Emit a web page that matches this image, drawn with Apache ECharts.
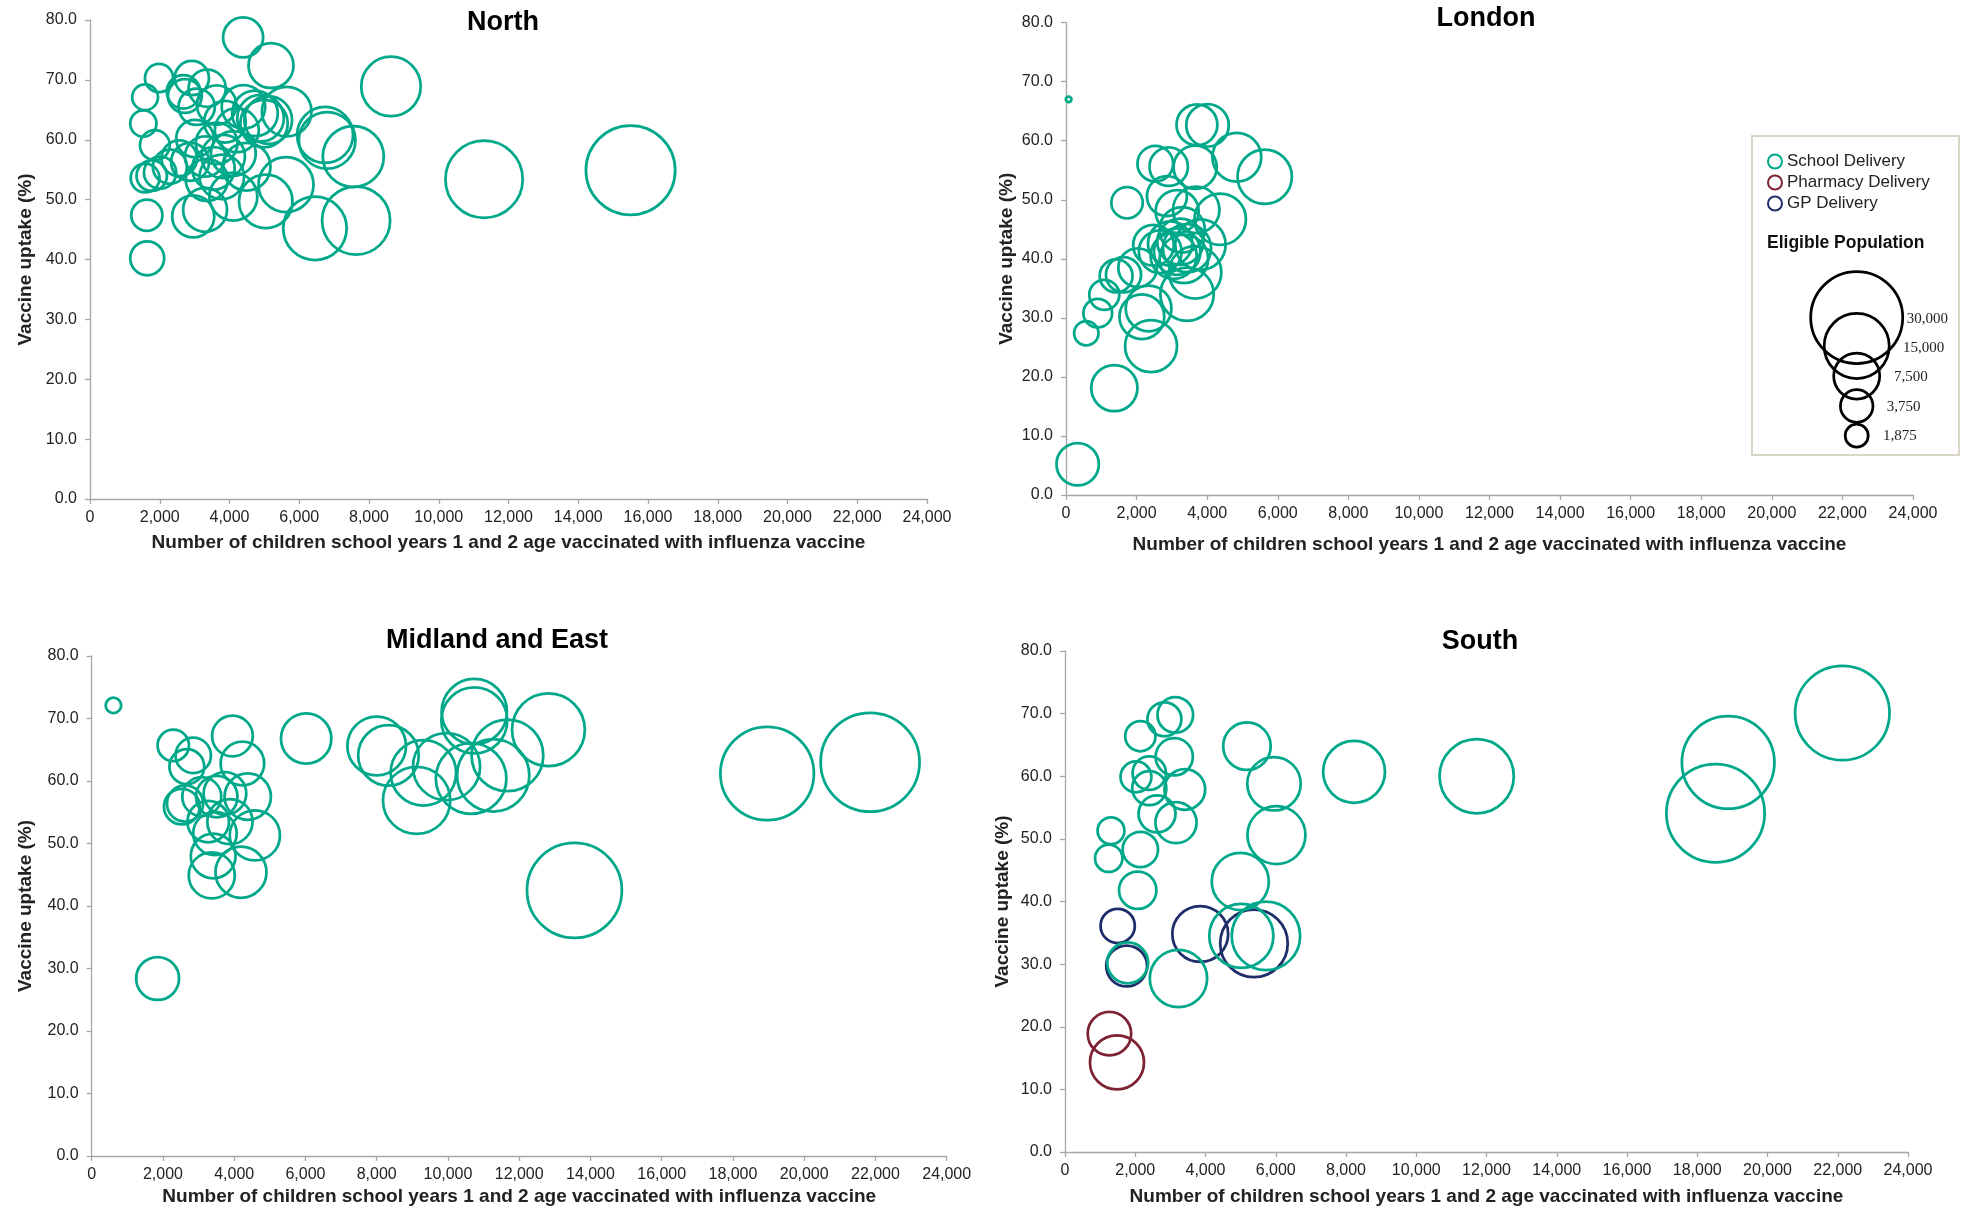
<!DOCTYPE html>
<html>
<head>
<meta charset="utf-8">
<script src="https://cdn.jsdelivr.net/npm/echarts@6/dist/echarts.min.js"></script>
<style>
html,body{margin:0;padding:0;background:#fff;}
#chart{width:1966px;height:1210px;}
</style>
</head>
<body>
<div id="chart"></div>
<script>
// ---- data: [vaccinated children, uptake %] ----
const regionTitles = ['North', 'London', 'Midland and East', 'South'];
const seriesNames = ['School Delivery', 'Pharmacy Delivery', 'GP Delivery'];

const northSchool = [
  [4390,77.1],[5190,72.4],[8630,68.9],[11300,53.4],[15500,54.9],[7630,46.5],[6450,45.2],
  [7550,57.2],[6740,60.8],[6800,59.9],[5620,52.5],[5040,49.7],[5640,64.7],[4730,64.4],
  [4890,63.6],[4990,62.7],[5110,63.3],[4400,65.5],[4490,55.5],[4110,50.5],[3300,48.3],
  [2960,47.2],[1630,47.4],[1640,40.2],[1580,67.1],[1530,62.7],[1980,70.3],[1860,59.1],
  [1580,53.6],[1770,54.0],[2010,54.5],[2290,55.5],[2560,56.9],[2680,68.0],[2720,67.3],
  [2920,70.3],[3360,68.6],[3060,65.5],[3630,65.8],[3010,60.2],[3300,57.2],[3630,59.4],
  [3820,57.2],[3540,55.2],[3780,53.8],[4110,57.7],[4210,61.6],[3350,53.3],[2870,56.3],
  [3870,63.0]
];
const londonSchool = [
  [75,67.0],[330,5.2],[1370,18.1],[2410,25.2],[575,27.4],[900,30.8],[1085,33.9],[1420,37.1],
  [1630,37.3],[2030,38.5],[2150,30.2],[2340,31.6],[1730,49.5],[2530,56.1],[2910,55.6],
  [3710,62.7],[4010,62.6],[4840,57.2],[5630,53.9],[3660,55.5],[2860,50.6],[3150,48.0],
  [3690,48.3],[4370,46.7],[2480,42.3],[2670,41.2],[2950,42.6],[3240,42.9],[3150,41.2],
  [3430,41.8],[3810,42.4],[3660,37.7],[3430,34.0],[3290,44.9],[3050,40.5],[3340,40.0]
];
const midlandSchool = [
  [610,72.1],[1850,28.4],[2290,65.7],[2850,64.1],[2670,62.3],[3950,67.2],[4230,62.8],
  [2530,55.9],[2620,56.4],[3090,57.5],[3740,58.0],[4380,57.5],[3510,57.5],[3270,53.5],
  [3880,53.5],[3460,51.6],[4580,51.3],[3410,48.0],[3370,44.9],[4190,45.4],[6020,66.8],
  [8000,65.6],[8330,64.1],[9310,61.3],[9120,56.9],[9960,62.3],[10650,60.4],[11270,60.9],
  [11670,64.1],[10740,71.1],[10740,69.7],[12820,68.2],[13550,42.5],[18960,61.2],[21850,63.0]
];
const southSchool = [
  [2145,66.4],[2830,69.1],[3140,69.8],[3110,63.1],[2020,59.9],[2400,60.5],[2400,58.1],
  [3410,57.9],[2620,54.0],[3160,52.6],[1310,51.3],[1245,46.9],[2145,48.3],[2070,41.8],
  [1785,30.2],[3230,27.7],[5020,34.5],[5720,34.5],[4990,43.2],[5180,64.8],[5950,58.8],
  [6020,50.6],[8230,60.7],[11720,60.0],[18880,62.2],[18520,54.1],[22130,70.1]
];
const southPharmacy = [[1265,18.9],[1480,14.3]];
const southGP = [[1500,36.1],[1755,29.7],[3850,34.8],[5380,33.3]];

// bubble-size legend
const sizeLegendPops = [30000, 15000, 7500, 3750, 1875];
const sizeLegendLabels = ['30,000', '15,000', '7,500', '3,750', '1,875'];

const X_TITLE = 'Number of children school years 1 and 2 age vaccinated with influenza vaccine';
const Y_TITLE = 'Vaccine uptake (%)';

// ---- styling ----
const FONT = '"Liberation Sans", Arial, sans-serif';
const COLORS = {'School Delivery':'#00A88A','Pharmacy Delivery':'#7D2333','GP Delivery':'#1F2D6B'};
const AXIS_GRAY = '#A6A6A6';
const K = 92 / Math.sqrt(30000);              // diameter per sqrt(eligible population)
function sizeForPop(p){ return K * Math.sqrt(p); }
// eligible population = vaccinated / uptake
function bubbleSize(v){ return sizeForPop(v[0] / (v[1] / 100)); }

const grids = [
  {left:90,   top:20,   width:837, height:479},
  {left:1066, top:22.6, width:847, height:472.4},
  {left:91.7, top:656,  width:855, height:500},
  {left:1065, top:651,  width:843, height:501}
];
const xNameGaps = [34, 40, 31, 35];
const yNameGaps = [55, 50, 56, 53];
const titlePos = [[503,23],[1486,19],[497,641],[1480,642]];

function xAxisCfg(i){
  return {
    type:'value', gridIndex:i, min:0, max:24000, interval:2000,
    axisLine:{show:true, onZero:false, lineStyle:{color:AXIS_GRAY, width:1.3}},
    axisTick:{show:true, length:5, lineStyle:{color:AXIS_GRAY, width:1.3}},
    splitLine:{show:false},
    axisLabel:{fontSize:16, color:'#222', margin:11, fontFamily:FONT,
      formatter:v=>v.toLocaleString('en-US')},
    name:X_TITLE, nameLocation:'middle', nameGap:xNameGaps[i],
    nameTextStyle:{fontSize:19, fontWeight:'bold', color:'#222', fontFamily:FONT}
  };
}
function yAxisCfg(i){
  return {
    type:'value', gridIndex:i, min:0, max:80, interval:10,
    axisLine:{show:true, onZero:false, lineStyle:{color:AXIS_GRAY, width:1.3}},
    axisTick:{show:true, length:5, lineStyle:{color:AXIS_GRAY, width:1.3}},
    splitLine:{show:false},
    axisLabel:{fontSize:16, color:'#222', margin:13, fontFamily:FONT,
      formatter:v=>v.toFixed(1)},
    name:Y_TITLE, nameLocation:'middle', nameRotate:90, nameGap:yNameGaps[i],
    nameTextStyle:{fontSize:19, fontWeight:'bold', color:'#222', fontFamily:FONT}
  };
}
function bubbleSeries(name, i, data){
  return {
    name, type:'scatter', xAxisIndex:i, yAxisIndex:i, data,
    symbol:'circle', symbolSize:bubbleSize, silent:true,
    itemStyle:{color:'rgba(0,0,0,0)', borderColor:COLORS[name], borderWidth:2.75, opacity:1}
  };
}

const series = [
  bubbleSeries('School Delivery', 0, northSchool),
  bubbleSeries('School Delivery', 1, londonSchool),
  bubbleSeries('School Delivery', 2, midlandSchool),
  bubbleSeries('GP Delivery', 3, southGP),
  bubbleSeries('School Delivery', 3, southSchool),
  bubbleSeries('Pharmacy Delivery', 3, southPharmacy)
];

const graphics = [];
regionTitles.forEach((t,i)=>{
  graphics.push({type:'text', x:titlePos[i][0], y:titlePos[i][1], z:20,
    style:{text:t, font:'bold 27px ' + FONT, fill:'#000', textAlign:'center', textVerticalAlign:'middle'}});
});
// legend box
graphics.push({type:'rect', z:5, shape:{x:1752, y:136, width:207, height:319},
  style:{fill:'#fff', stroke:'#D9D5C7', lineWidth:2}});
graphics.push({type:'text', z:20, x:1767, y:243,
  style:{text:'Eligible Population', font:'bold 17.5px ' + FONT, fill:'#111', textVerticalAlign:'middle'}});
const sizeCY = [317.5, 346, 376, 406, 435.7];
const labelX = [1906.7, 1903, 1894, 1886.7, 1883];
const labelY = [319, 347.7, 377, 406.7, 435.7];
sizeLegendPops.forEach((p,i)=>{
  graphics.push({type:'circle', z:20, shape:{cx:1856.7, cy:sizeCY[i], r:sizeForPop(p)/2},
    style:{fill:'none', stroke:'#000', lineWidth:2.75}});
  graphics.push({type:'text', z:20, x:labelX[i], y:labelY[i],
    style:{text:sizeLegendLabels[i], font:'15px "Liberation Serif", serif', fill:'#222', textVerticalAlign:'middle'}});
});

const chart = echarts.init(document.getElementById('chart'), null, {renderer:'canvas'});
chart.setOption({
  backgroundColor:'#fff',
  animation:false,
  grid:grids,
  xAxis:grids.map((g,i)=>xAxisCfg(i)),
  yAxis:grids.map((g,i)=>yAxisCfg(i)),
  legend:{
    data:seriesNames, orient:'vertical', left:1762, top:148, z:30,
    icon:'circle', itemWidth:14, itemHeight:14, itemGap:4, selectedMode:false,
    itemStyle:{color:'rgba(0,0,0,0)', borderWidth:2},
    textStyle:{fontSize:17, color:'#222', fontFamily:FONT}
  },
  graphic:graphics,
  series
});
</script>
</body>
</html>
